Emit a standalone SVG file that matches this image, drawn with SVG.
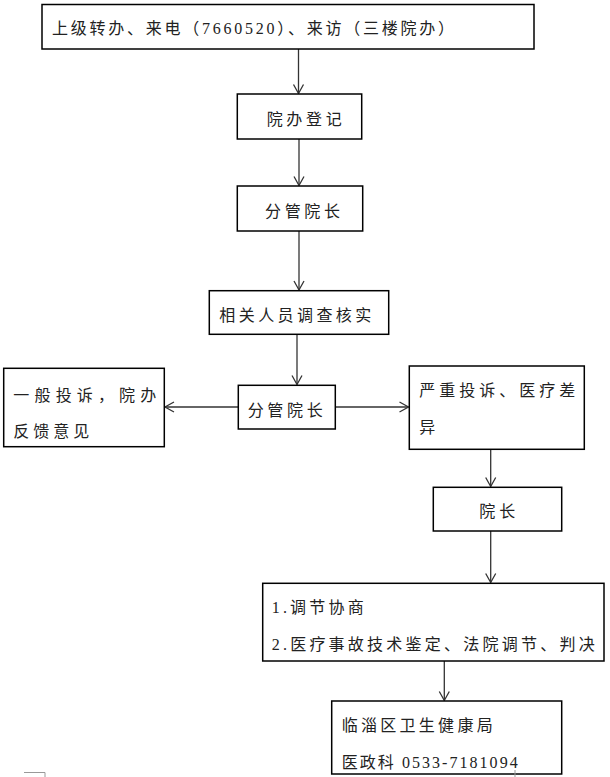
<svg xmlns="http://www.w3.org/2000/svg" width="610" height="777" viewBox="0 0 610 777">
<style>
.box{fill:#fff;stroke:#000;stroke-width:1.5}
.t{font-family:"Liberation Serif","Noto Sans CJK SC",serif;font-size:16px;fill:#222}
.c{stroke:#333;stroke-width:1.3;fill:none;marker-end:url(#ah)}
.crop{stroke:#999;stroke-width:1;fill:none}
</style>
<defs>
<marker id="ah" markerUnits="userSpaceOnUse" markerWidth="14" markerHeight="14" viewBox="-11 -7 12 14" refX="0" refY="0" orient="auto">
<path d="M-9,-5 L0,0 L-9,5" fill="none" stroke="#333" stroke-width="1.3"/>
</marker>
</defs>
<rect width="610" height="777" fill="#fff"/>
<g id="connectors">
<line class="c" x1="298.5" y1="49" x2="298.5" y2="93.5"/>
<line class="c" x1="299" y1="139" x2="299" y2="185.5"/>
<line class="c" x1="299" y1="231" x2="299" y2="290"/>
<line class="c" x1="297" y1="334" x2="297" y2="384.5"/>
<line class="c" x1="238" y1="407" x2="165" y2="407"/>
<line class="c" x1="335" y1="407" x2="408.5" y2="407"/>
<line class="c" x1="490.7" y1="449" x2="490.7" y2="486.5"/>
<line class="c" x1="490.7" y1="531" x2="490.7" y2="582.5"/>
<line class="c" x1="444.3" y1="661" x2="444.3" y2="700.5"/>
</g>
<g id="n1"><rect class="box" x="42" y="4.5" width="492" height="44.5"/>
<text class="t" x="52" y="34" textLength="402" lengthAdjust="spacing">上级转办、来电（7660520）、来访（三楼院办）</text></g>
<g id="n2"><rect class="box" x="237.3" y="94" width="124.4" height="45"/>
<text class="t" x="266.7" y="125" textLength="75" lengthAdjust="spacing">院办登记</text></g>
<g id="n3"><rect class="box" x="237.3" y="186" width="125.4" height="45"/>
<text class="t" x="265" y="217" textLength="75" lengthAdjust="spacing">分管院长</text></g>
<g id="n4"><rect class="box" x="209.3" y="290.7" width="179.4" height="43.6"/>
<text class="t" x="219.3" y="321" textLength="152" lengthAdjust="spacing">相关人员调查核实</text></g>
<g id="n5"><rect class="box" x="238.3" y="385.3" width="97" height="43.7"/>
<text class="t" x="247.7" y="415.5" textLength="75" lengthAdjust="spacing">分管院长</text></g>
<g id="n6"><rect class="box" x="3.7" y="368.3" width="160.6" height="78.4"/>
<text class="t" x="13.3" y="400.5" textLength="143" lengthAdjust="spacing">一般投诉，院办</text>
<text class="t" x="13.3" y="437" textLength="76" lengthAdjust="spacing">反馈意见</text></g>
<g id="n7"><rect class="box" x="409.3" y="366" width="175" height="83.3"/>
<text class="t" x="419.3" y="395.5" textLength="156" lengthAdjust="spacing">严重投诉、医疗差</text>
<text class="t" x="419.3" y="433">异</text></g>
<g id="n8"><rect class="box" x="433.3" y="487.3" width="128.4" height="43.7"/>
<text class="t" x="479.3" y="517" textLength="36" lengthAdjust="spacing">院长</text></g>
<g id="n9"><rect class="box" x="262.7" y="583.3" width="341.3" height="77.7"/>
<text class="t" x="271.7" y="613" textLength="92" lengthAdjust="spacing">1.调节协商</text>
<text class="t" x="271.7" y="650" textLength="323" lengthAdjust="spacing">2.医疗事故技术鉴定、法院调节、判决</text></g>
<g id="n10"><rect class="box" x="331.7" y="701" width="230" height="73"/>
<text class="t" x="341.7" y="730.5" textLength="151" lengthAdjust="spacing">临淄区卫生健康局</text>
<text class="t" x="341.7" y="768" textLength="176" lengthAdjust="spacing">医政科 0533-7181094</text></g>
<g id="marks">
<polyline class="crop" points="24,772.5 45,772.5 45,777"/>
<line class="crop" x1="515" y1="770" x2="515" y2="777"/>
</g>
</svg>
